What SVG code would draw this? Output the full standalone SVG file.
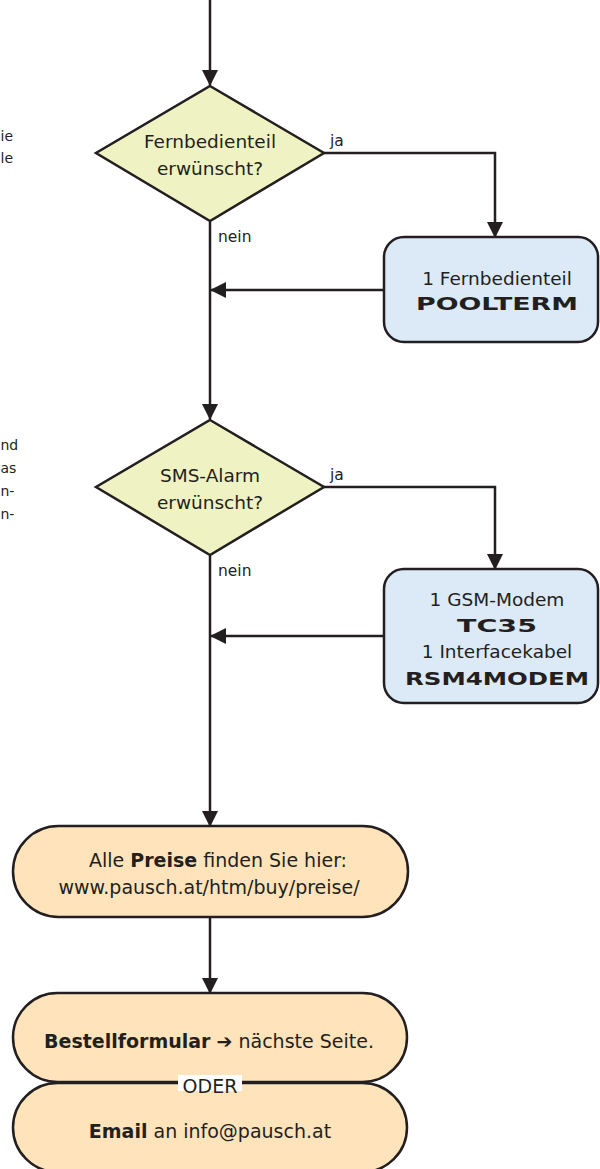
<svg xmlns="http://www.w3.org/2000/svg" width="600" height="1169" viewBox="0 0 600 1169">
<style>
text{font-family:"DejaVu Sans","Liberation Sans",sans-serif;fill:#231f20}
.lbl{font-size:18.5px;text-anchor:middle}
.tl{font-size:19px;text-anchor:middle}
.sm{font-size:15.5px}
.frag{font-size:14px}
.logo{font-family:"DejaVu Sans","Liberation Sans",sans-serif;font-weight:bold;font-size:17px;text-anchor:middle}
.dia{fill:#eff2c2;stroke:#231f20;stroke-width:2.5}
.box{fill:#dce9f6;stroke:#231f20;stroke-width:2.5}
.term{fill:#fee3bb;stroke:#231f20;stroke-width:2.5}
.ln{fill:none;stroke:#231f20;stroke-width:2.5}
</style>
<defs>
<marker id="ah" viewBox="0 0 16 16" refX="15" refY="8" markerWidth="16" markerHeight="16" markerUnits="userSpaceOnUse" orient="auto">
<path d="M0,0 L16,8 L0,16 Z" fill="#231f20"/>
</marker>
</defs>
<g id="fragments">
<text class="frag" x="0.5" y="141">ie</text>
<text class="frag" x="0.5" y="163">le</text>
<text class="frag" x="0.5" y="450">nd</text>
<text class="frag" x="0.5" y="473">as</text>
<text class="frag" x="0.5" y="496">n-</text>
<text class="frag" x="0.5" y="519">n-</text>
</g>
<g id="connectors">
<line class="ln" x1="210" y1="0" x2="210" y2="85" marker-end="url(#ah)"/>
<polyline class="ln" points="323,153 495,153 495,237" marker-end="url(#ah)"/>
<line class="ln" x1="210" y1="222" x2="210" y2="419" marker-end="url(#ah)"/>
<line class="ln" x1="384" y1="290" x2="211" y2="290" marker-end="url(#ah)"/>
<polyline class="ln" points="323,487 495,487 495,569" marker-end="url(#ah)"/>
<line class="ln" x1="210" y1="556" x2="210" y2="826" marker-end="url(#ah)"/>
<line class="ln" x1="384" y1="636" x2="211" y2="636" marker-end="url(#ah)"/>
<line class="ln" x1="210" y1="917" x2="210" y2="993" marker-end="url(#ah)"/>
<text class="sm" x="330" y="146">ja</text>
<text class="sm" x="218" y="242">nein</text>
<text class="sm" x="330" y="480">ja</text>
<text class="sm" x="218" y="576">nein</text>
</g>
<g id="decision1">
<polygon class="dia" points="210,86 324,153 210,221 96,153"/>
<text class="lbl" x="210" y="148">Fernbedienteil</text>
<text class="lbl" x="210" y="175">erwünscht?</text>
</g>
<g id="box1">
<rect class="box" x="384" y="237" width="214" height="105" rx="20"/>
<text class="lbl" x="497" y="285">1 Fernbedienteil</text>
<text class="logo" x="497" y="310" textLength="162" lengthAdjust="spacingAndGlyphs">POOLTERM</text>
</g>
<g id="decision2">
<polygon class="dia" points="210,420 324,487 210,555 96,487"/>
<text class="lbl" x="210" y="482">SMS-Alarm</text>
<text class="lbl" x="210" y="509">erwünscht?</text>
</g>
<g id="box2">
<rect class="box" x="384" y="569" width="214" height="134" rx="20"/>
<text class="lbl" x="497" y="606">1 GSM-Modem</text>
<text class="logo" x="497" y="632" textLength="80" lengthAdjust="spacingAndGlyphs">TC35</text>
<text class="lbl" x="497" y="658">1 Interfacekabel</text>
<text class="logo" x="497" y="685" textLength="184" lengthAdjust="spacingAndGlyphs">RSM4MODEM</text>
</g>
<g id="prices">
<rect class="term" x="13" y="826" width="395" height="91" rx="45.5"/>
<text class="tl" x="218" y="867">Alle <tspan font-weight="bold">Preise</tspan> finden Sie hier:</text>
<text class="tl" x="209" y="894">www.pausch.at/htm/buy/preise/</text>
</g>
<g id="email">
<rect class="term" x="13" y="1083" width="394" height="89" rx="44.5"/>
<text class="tl" x="210" y="1138"><tspan font-weight="bold">Email</tspan> an info@pausch.at</text>
</g>
<g id="order">
<rect class="term" x="13" y="993" width="394" height="89" rx="44.5"/>
<text class="tl" x="209" y="1048"><tspan font-weight="bold">Bestellformular</tspan> <tspan font-weight="bold">➔</tspan> nächste Seite.</text>
</g>
<g id="oder">
<rect x="178" y="1075" width="64" height="16" fill="#ffffff"/>
<text class="tl" x="210" y="1093">ODER</text>
</g>
</svg>
